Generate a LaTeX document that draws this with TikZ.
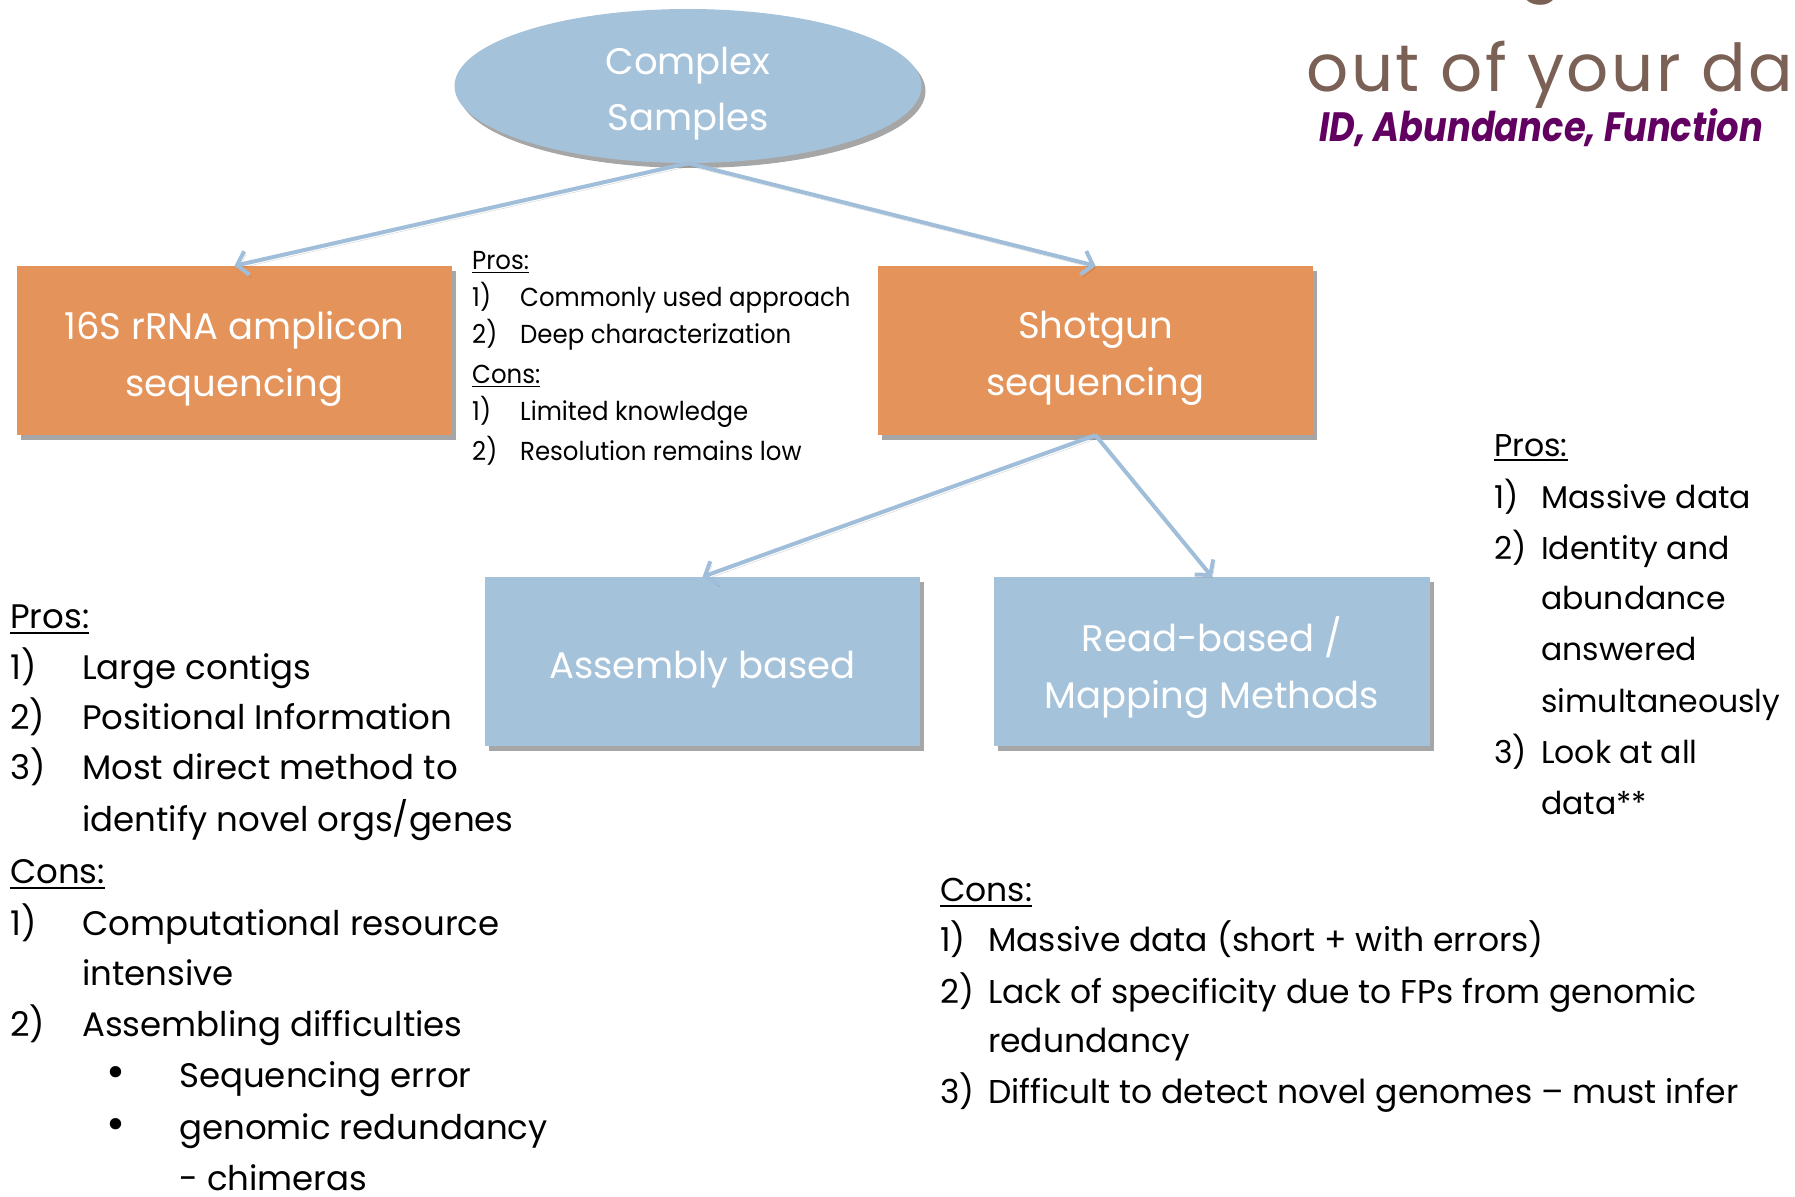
\documentclass[tikz,border=0pt]{standalone}
\usepackage{fontspec}
\setmainfont{Poppins}
\newfontfamily\condfont[FakeStretch=0.94]{Poppins}
\newfontfamily\purpfont[FakeStretch=0.86]{Poppins}
\newfontfamily\bigtitlefont[LetterSpace=4]{Poppins}
\usetikzlibrary{shapes.geometric,arrows.meta,shadows}
\definecolor{boxorange}{RGB}{228,147,90}
\definecolor{boxblue}{RGB}{165,194,219}
\definecolor{arrowblue}{RGB}{160,190,218}
\definecolor{titlebrown}{RGB}{122,96,85}
\definecolor{titlepurple}{RGB}{98,0,98}
\newcommand\ulx[1]{\setbox0\hbox{#1}\rlap{\rule[-0.17em]{\wd0}{0.06em}}\box0}
\newcommand\bigdot{{\fontsize{46}{46}\selectfont •}}
\begin{document}
\begin{tikzpicture}[x=1pt,y=-1pt,
  shad/.style={drop shadow={shadow xshift=4pt,shadow yshift=-5pt,opacity=0.35,fill=black}},
  box/.style={rectangle,draw=none,minimum width=435pt,minimum height=169pt,inner sep=0pt,shad},
  boxtext/.style={inner sep=0pt,text=white,align=center,font=\fontsize{37}{57}\selectfont},
  conn/.style={draw=arrowblue,line width=4pt,-{Straight Barb[length=10pt,width=24pt]},
    preaction={draw=black,opacity=0.18,transform canvas={shift={(2pt,-3pt)}}}},
  big/.style={anchor=base west,inner sep=0pt,font=\fontsize{34}{40}\selectfont},
  rbig/.style={anchor=base west,inner sep=0pt,font=\fontsize{31.5}{38}\selectfont},
  small/.style={anchor=base west,inner sep=0pt,font=\condfont\fontsize{26}{30}\selectfont},
  cbig/.style={anchor=base west,inner sep=0pt,font=\fontsize{33}{38}\selectfont}]
\useasboundingbox (0,0) rectangle (1795,1196);
% title fragments
\begin{scope}
\clip (0,0) rectangle (1795,1196);
\node[anchor=base west,inner sep=0pt,text=titlebrown,font=\fontsize{66}{70}\selectfont] (tg) at (1518,-12) {g};
\node[anchor=base west,inner sep=0pt,text=titlebrown,font=\bigtitlefont\fontsize{66}{70}\selectfont] (t1) at (1306,92) {out of your data};
\end{scope}
\node[anchor=base west,inner sep=0pt,text=titlepurple,font=\purpfont\bfseries\itshape\fontsize{41}{44}\selectfont] (t2) at (1319,141) {ID, Abundance, Function};
% main nodes
\node[ellipse,fill=boxblue,draw=none,minimum width=467pt,minimum height=154pt,inner sep=0pt,shad] (cs) at (688,86) {};
\node[boxtext,font=\fontsize{37}{56}\selectfont] (cst) at ([yshift=-8pt]cs.center) {Complex\\Samples};
\node[box,fill=boxorange] (s16) at (234.5,350.5) {};
\node[boxtext] (s16t) at ([yshift=-8pt]s16.center) {16S rRNA amplicon\\sequencing};
\node[box,fill=boxorange] (sg) at (1095.5,350.5) {};
\node[boxtext] (sgt) at ([yshift=-8pt]sg.center) {Shotgun\\sequencing};
\node[box,fill=boxblue] (asm) at (702.5,661.5) {};
\node[boxtext] (asmt) at ([yshift=-8pt]asm.center) {Assembly based};
\node[box,fill=boxblue,minimum width=436pt] (rb) at (1212,661.5) {};
\node[boxtext] (rbt) at ([yshift=-6pt]rb.center) {Read-based /\\Mapping Methods};
% connectors
\draw[conn] (cs.south) -- (s16.north);
\draw[conn] (cs.south) -- (sg.north);
\draw[conn] (sg.south) -- (asm.north);
\draw[conn] (sg.south) -- (rb.north);
% middle block
\node[small] (m0) at (472,269) {\ulx{Pros:}};
\node[small] (m1n) at (472,306) {1)};
\node[small] (m1t) at (520,306) {Commonly used approach};
\node[small] (m2n) at (472,343) {2)};
\node[small] (m2t) at (520,343) {Deep characterization};
\node[small] (m3) at (472,383) {\ulx{Cons:}};
\node[small] (m4n) at (472,420) {1)};
\node[small] (m4t) at (520,420) {Limited knowledge};
\node[small] (m5n) at (472,460) {2)};
\node[small] (m5t) at (520,460) {Resolution remains low};
% left block
\node[big] (l0) at (10,628) {\ulx{Pros:}};
\node[big] (l1n) at (10,679) {1)};
\node[big] (l1t) at (82,679) {Large contigs};
\node[big] (l2n) at (10,729) {2)};
\node[big] (l2t) at (82,729) {Positional Information};
\node[big] (l3n) at (10,779) {3)};
\node[big] (l3t) at (82,779) {Most direct method to};
\node[big] (l3u) at (82,831) {identify novel orgs/genes};
\node[big] (l4) at (10,883) {\ulx{Cons:}};
\node[big] (l5n) at (10,935) {1)};
\node[big] (l5t) at (82,935) {Computational resource};
\node[big] (l5u) at (82,985) {intensive};
\node[big] (l6n) at (10,1036) {2)};
\node[big] (l6t) at (82,1036) {Assembling difficulties};
\node[big] (l7b) at (106,1087) {\bigdot};
\node[big] (l7t) at (179,1087) {Sequencing error};
\node[big] (l8b) at (106,1139) {\bigdot};
\node[big] (l8t) at (179,1139) {genomic redundancy};
\node[big] (l9t) at (179,1190) {- chimeras};
% right pros
\node[rbig] (r0) at (1494,456) {\ulx{Pros:}};
\node[rbig] (r1n) at (1494,508) {1)};
\node[rbig] (r1t) at (1541,508) {Massive data};
\node[rbig] (r2n) at (1494,559) {2)};
\node[rbig] (r2t) at (1541,559) {Identity and};
\node[rbig] (r2u) at (1541,609) {abundance};
\node[rbig] (r2v) at (1541,660) {answered};
\node[rbig] (r2w) at (1541,712) {simultaneously};
\node[rbig] (r3n) at (1494,763) {3)};
\node[rbig] (r3t) at (1541,763) {Look at all};
\node[rbig] (r3u) at (1541,814) {data**};
% right cons
\node[cbig] (c0) at (940,901) {\ulx{Cons:}};
\node[cbig] (c1n) at (940,951) {1)};
\node[cbig] (c1t) at (988,951) {Massive data (short + with errors)};
\node[cbig] (c2n) at (940,1003) {2)};
\node[cbig] (c2t) at (988,1003) {Lack of specificity due to FPs from genomic};
\node[cbig] (c2u) at (988,1052) {redundancy};
\node[cbig] (c3n) at (940,1103) {3)};
\node[cbig] (c3t) at (988,1103) {Difficult to detect novel genomes – must infer};
\end{tikzpicture}
\end{document}
